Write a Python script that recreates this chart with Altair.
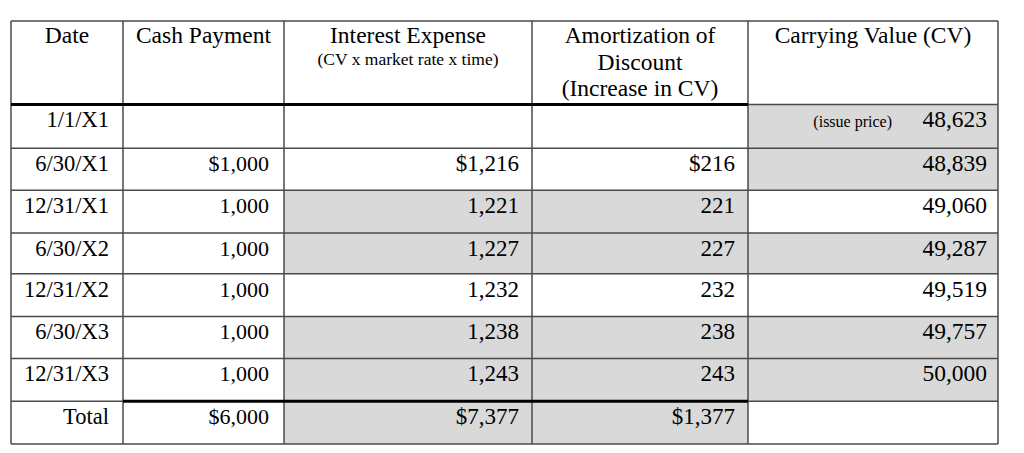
import altair as alt
import pandas as pd

# ---- table content ----
header_lines = [
    ("Date", 0, 0), ("Cash Payment", 1, 0), ("Interest Expense", 2, 0),
    ("(CV x market rate x time)", 2, 1), ("Amortization of", 3, 0),
    ("Discount", 3, 2), ("(Increase in CV)", 3, 3), ("Carrying Value (CV)", 4, 0),
]
dates = ["1/1/X1", "6/30/X1", "12/31/X1", "6/30/X2", "12/31/X2", "6/30/X3", "12/31/X3", "Total"]
cash_payment = [None, 1000, 1000, 1000, 1000, 1000, 1000, 6000]
interest_expense = [None, 1216, 1221, 1227, 1232, 1238, 1243, 7377]
amortization = [None, 216, 221, 227, 232, 238, 243, 1377]
carrying_value = [48623, 48839, 49060, 49287, 49519, 49757, 50000, None]
dollar_rows = [1, 7]
issue_note = "(issue price)"

# shaded cells: (row, column)
shaded = [(0, 4), (1, 4), (2, 2), (2, 3), (3, 2), (3, 3), (3, 4),
          (5, 2), (5, 3), (5, 4), (6, 2), (6, 3), (6, 4), (7, 2), (7, 3)]

# ---- layout ----
col_edges = [11, 123, 284, 532, 748, 998]
row_edges = [21, 105, 149, 191, 234, 275, 318, 360, 403, 446]
right_pad = [14, 15, 13, 13, 11]
body_size = [22.5, 22, 23, 23, 23.5]
header_baselines = [43, 65, 70, 96]
header_sizes = [23.5, 17.5, 23.5, 23.5]
baseline_offset = 23
FONT = "Liberation Serif"
GRID = "#4a4a4a"
FILL = "#d9d9d9"

def fmt(v, r, dollars=True):
    if v is None:
        return ""
    s = f"{v:,}"
    return ("$" + s) if (dollars and r in dollar_rows) else s

# cells background
rects = []
for r, c in shaded:
    rects.append({"x": col_edges[c], "x2": col_edges[c + 1],
                  "y": row_edges[r + 1], "y2": row_edges[r + 2]})
rect_df = pd.DataFrame(rects)

# body text
columns = [dates,
           [fmt(v, r) for r, v in enumerate(cash_payment)],
           [fmt(v, r) for r, v in enumerate(interest_expense)],
           [fmt(v, r) for r, v in enumerate(amortization)],
           [fmt(v, r, dollars=False) for r, v in enumerate(carrying_value)]]
texts = []
for c, col in enumerate(columns):
    for r, t in enumerate(col):
        if t:
            texts.append({"x": col_edges[c + 1] - right_pad[c],
                          "y": row_edges[r + 1] + baseline_offset,
                          "t": t, "s": body_size[c]})
texts.append({"x": 892, "y": row_edges[1] + baseline_offset, "t": issue_note, "s": 16})
text_df = pd.DataFrame(texts)

head = []
for t, c, li in header_lines:
    head.append({"x": (col_edges[c] + col_edges[c + 1]) / 2,
                 "y": header_baselines[li], "t": t, "s": header_sizes[li]})
head_df = pd.DataFrame(head)

# grid lines
lines = []
for i, y in enumerate(row_edges):
    lines.append({"x": col_edges[0], "x2": col_edges[-1], "y": y, "y2": y, "w": 1.5, "c": GRID})
for x in col_edges:
    lines.append({"x": x, "x2": x, "y": row_edges[0], "y2": row_edges[-1], "w": 1.5, "c": GRID})
lines.append({"x": col_edges[0], "x2": col_edges[4], "y": row_edges[1], "y2": row_edges[1], "w": 3, "c": "#000000"})
lines.append({"x": col_edges[1], "x2": col_edges[4], "y": row_edges[8], "y2": row_edges[8], "w": 3, "c": "#000000"})
line_df = pd.DataFrame(lines)

W, H = 1008, 437
xs = alt.Scale(domain=[8, 8 + W], nice=False, zero=False)
ys = alt.Scale(domain=[8, 447], nice=False, zero=False, reverse=True)

bg = alt.Chart(rect_df).mark_rect(color=FILL).encode(
    x=alt.X("x:Q", scale=xs, axis=None), x2="x2:Q",
    y=alt.Y("y:Q", scale=ys, axis=None), y2="y2:Q")

grid = alt.Chart(line_df).mark_rule().encode(
    x=alt.X("x:Q", scale=xs, axis=None), x2="x2:Q",
    y=alt.Y("y:Q", scale=ys, axis=None), y2="y2:Q",
    strokeWidth=alt.StrokeWidth("w:Q", scale=None),
    color=alt.Color("c:N", scale=None))

body = alt.Chart(text_df).mark_text(align="right", baseline="alphabetic", font=FONT, color="black").encode(
    x=alt.X("x:Q", scale=xs, axis=None), y=alt.Y("y:Q", scale=ys, axis=None),
    text="t:N", size=alt.Size("s:Q", scale=None))

header = alt.Chart(head_df).mark_text(align="center", baseline="alphabetic", font=FONT, color="black").encode(
    x=alt.X("x:Q", scale=xs, axis=None), y=alt.Y("y:Q", scale=ys, axis=None),
    text="t:N", size=alt.Size("s:Q", scale=None))

chart = alt.layer(bg, grid, body, header).properties(
    width=W, height=H, padding=0, autosize=alt.AutoSizeParams(type="none")
).configure_view(stroke=None)

chart.save("out.html", embed_options={"renderer": "svg", "actions": False})
